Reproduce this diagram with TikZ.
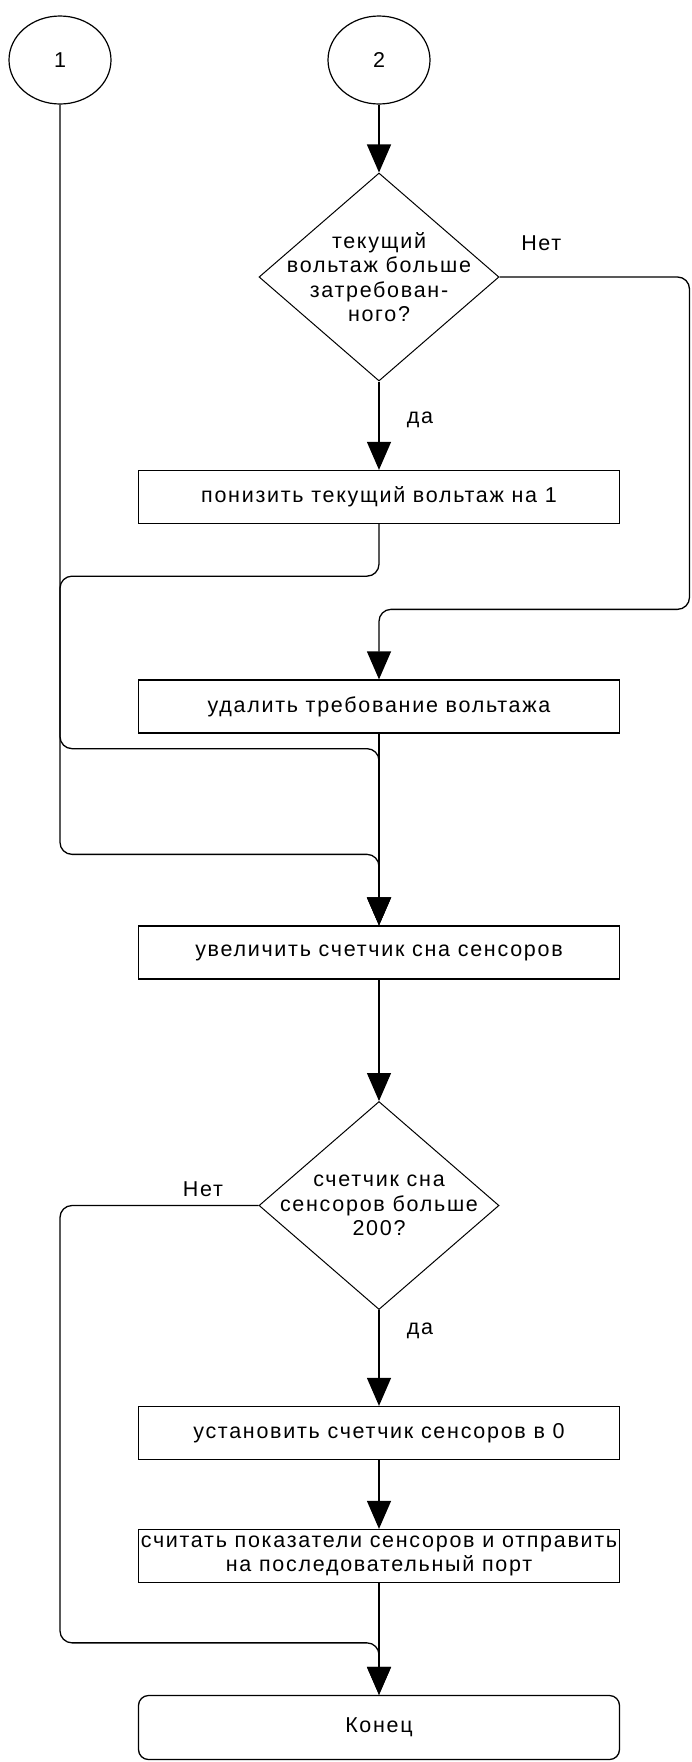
\documentclass[tikz,border=0pt]{standalone}
\usepackage{fontspec}
\setmainfont{Liberation Sans}[LetterSpace=8]
\usepackage{tikz}
\usetikzlibrary{shapes.geometric, arrows.meta, positioning, calc}
\tikzset{
  connector/.style={ellipse, minimum width=102pt, minimum height=88pt, inner sep=0pt, text centered, draw=black, line width=1.2pt},
  process/.style={rectangle, minimum width=481pt, minimum height=53pt, inner sep=2pt, text centered, align=center, draw=black, line width=1.3pt},
  decision/.style={diamond, minimum width=240pt, minimum height=208pt, inner xsep=-30pt, inner ysep=-20pt, text centered, align=center, draw=black, line width=1pt},
  startstop/.style={rectangle, rounded corners=10pt, minimum width=481pt, minimum height=64pt, text centered, draw=black, line width=1.3pt},
  arrow/.style={line width=1.3pt, -{Triangle[length=28pt, width=24pt]}, rounded corners=12pt}
}
\begin{document}
\begin{tikzpicture}[x=1pt, y=1pt, node distance=220pt, font=\fontsize{21.5}{24.5}\selectfont]
    \useasboundingbox (0,0) rectangle (691,-1762);

    \node (c2) [connector] at (379,-60) {2};
    \node (c1) [connector, left of=c2, xshift=-99pt] {1};
    \node (checkVolt) [decision, below of=c2, yshift=3pt] {текущий\\вольтаж больше\\затребован-\\ного?};
    \node (lowerVolt) [process, below of=checkVolt] {понизить текущий вольтаж на 1};
    \node (removeReq) [process, below of=lowerVolt, yshift=10.5pt] {удалить требование вольтажа};
    \node (incCount) [process, below of=removeReq, yshift=-26pt] {увеличить счетчик сна сенсоров};
    \node (checkCount) [decision, below of=incCount, yshift=-33pt] {счетчик сна\\сенсоров больше\\200?};
    \node (resetCount) [process, below of=checkCount, yshift=-7.5pt] {установить счетчик сенсоров в 0};
    \node (sendData) [process, below of=resetCount, yshift=97pt] {считать показатели сенсоров и отправить\\на последовательный порт};
    \node (end) [startstop, below of=sendData, yshift=48.5pt] {Конец};

    \coordinate (jLower) at ($(lowerVolt.south)+(0,-52)$);
    \coordinate (jRemove) at ($(removeReq.south)+(0,-15)$);
    \coordinate (jOne) at ($(incCount.north)+(0,71)$);
    \coordinate (jRight) at ($(checkVolt.east)+(190,0)$);
    \coordinate (jNo) at ($(removeReq.north)+(0,70)$);
    \coordinate (jEnd) at ($(end.north)+(0,52)$);

    \draw [arrow] (c2) -- (checkVolt);
    \draw [arrow] (checkVolt) -- node[anchor=west, xshift=24pt, pos=0.43] {да} (lowerVolt);
    \draw [arrow] (checkVolt.east) -- node[above, pos=0.22, yshift=22pt] {Нет} (jRight) |- (jNo) -- (removeReq);
    \draw [arrow] (lowerVolt) -- (jLower) -| (c1 |- jRemove) -- (jRemove) -- (incCount);
    \draw [arrow] (c1) -- (c1 |- jOne) -- (jOne) -- (incCount);
    \draw [arrow] (removeReq) -- (incCount);
    \draw [arrow] (incCount) -- (checkCount);
    \draw [arrow] (checkCount) -- node[anchor=west, xshift=24pt, pos=0.22] {да} (resetCount);
    \draw [arrow] (checkCount.west) -- node[above, pos=0.28, yshift=5pt] {Нет} (c1 |- checkCount) |- (jEnd) -- (end);
    \draw [arrow] (resetCount) -- (sendData);
    \draw [arrow] (sendData) -- (end);

\end{tikzpicture}
\end{document}
